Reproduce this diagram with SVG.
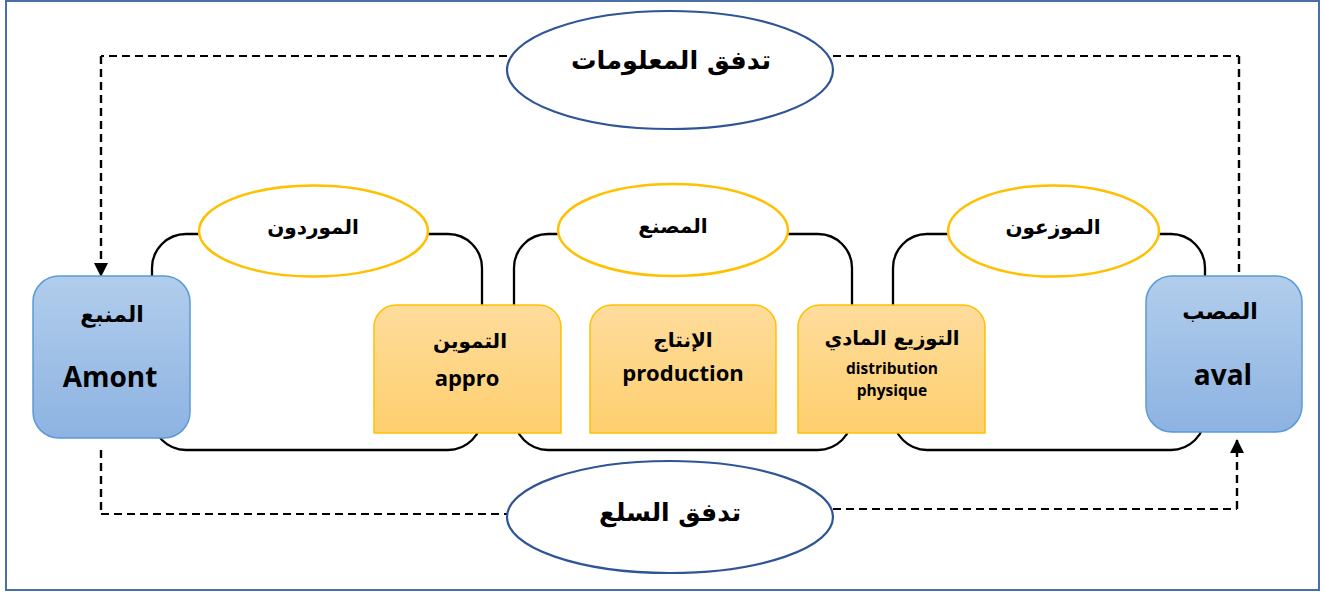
<svg xmlns="http://www.w3.org/2000/svg" width="1322" height="592" viewBox="0 0 1322 592">
  <style>
    .frame { fill: #ffffff; stroke: #4a6ea8; stroke-width: 2; }
    .bracket { fill: none; stroke: #000000; stroke-width: 2.3; }
    .flow { fill: none; stroke: #000000; stroke-width: 1.8; stroke-dasharray: 8 5; }
    .flow-v { fill: none; stroke: #000000; stroke-width: 2.4; stroke-dasharray: 8 5; }
    .actor { fill: #ffffff; stroke: #ffc000; stroke-width: 2.5; }
    .flowlabel { fill: #ffffff; stroke: #2f5597; stroke-width: 2.2; }
    .end { fill: url(#blueFill); stroke: #5b9bd5; stroke-width: 1.5; }
    .stage { fill: url(#orangeFill); stroke: #ffc000; stroke-width: 1.5; }
    .ar { font-family: "DejaVu Sans", sans-serif; font-weight: bold; fill: #000000; text-anchor: middle; direction: rtl; }
    .lat { font-family: "Open Sans", "Liberation Sans", sans-serif; font-weight: bold; fill: #000000; text-anchor: middle; }
  </style>
  <defs>
    <linearGradient id="blueFill" x1="0" y1="0" x2="0" y2="1">
      <stop offset="0" stop-color="#b1cdec"/>
      <stop offset="1" stop-color="#8db3e2"/>
    </linearGradient>
    <linearGradient id="orangeFill" x1="0" y1="0" x2="0" y2="1">
      <stop offset="0" stop-color="#fedc9c"/>
      <stop offset="1" stop-color="#fecf6e"/>
    </linearGradient>
    <marker id="arrow" viewBox="0 0 14 14" refX="13" refY="7" markerWidth="14" markerHeight="14" markerUnits="userSpaceOnUse" orient="auto">
      <path d="M0,0 L14,7 L0,14 Z" fill="#000000"/>
    </marker>
  </defs>

  <rect class="frame" x="6" y="1" width="1313" height="589"/>

  <!-- flow connectors and the bracket outlines behind the actors -->
  <g id="connectors">
    <path class="flow" d="M507,56 H101"/>
    <path class="flow-v" d="M101,56 V276" marker-end="url(#arrow)"/>
    <path class="flow" d="M833,56 H1239"/>
    <path class="flow-v" d="M1239,56 V277"/>
    <path class="flow-v" d="M101,450 V514"/>
    <path class="flow" d="M101,514 H507"/>
    <path class="flow" d="M833,509 H1237"/>
    <path class="flow-v" d="M1237,509 V440" marker-end="url(#arrow)"/>
    <rect class="bracket" x="152" y="234" width="330" height="216" rx="34"/>
    <rect class="bracket" x="514" y="234" width="338" height="216" rx="34"/>
    <rect class="bracket" x="893" y="234" width="312" height="216" rx="34"/>
  </g>

  <g id="info-flow">
    <ellipse class="flowlabel" cx="670" cy="70" rx="163" ry="59"/>
    <text class="ar" x="671" y="69" font-size="25.5">تدفق المعلومات</text>
  </g>

  <g id="goods-flow">
    <ellipse class="flowlabel" cx="670" cy="517" rx="163" ry="56"/>
    <text class="ar" x="670" y="521" font-size="25">تدفق السلع</text>
  </g>

  <g id="suppliers">
    <ellipse class="actor" cx="313.5" cy="231" rx="114.5" ry="45.5"/>
    <text class="ar" x="313" y="234" font-size="20">الموردون</text>
  </g>

  <g id="factory">
    <ellipse class="actor" cx="673" cy="230" rx="115" ry="46"/>
    <text class="ar" x="673" y="233" font-size="20">المصنع</text>
  </g>

  <g id="distributors">
    <ellipse class="actor" cx="1053.5" cy="231" rx="105.5" ry="45.5"/>
    <text class="ar" x="1053" y="234" font-size="20">الموزعون</text>
  </g>

  <g id="upstream">
    <rect class="end" x="33" y="276" width="157" height="162" rx="26"/>
    <text class="ar" x="112" y="322" font-size="22">المنبع</text>
    <text class="lat" x="110" y="387" font-size="28">Amont</text>
  </g>

  <g id="downstream">
    <rect class="end" x="1146" y="276" width="156" height="156" rx="26"/>
    <text class="ar" x="1220" y="319" font-size="22">المصب</text>
    <text class="lat" x="1223" y="385" font-size="28">aval</text>
  </g>

  <g id="supply">
    <path class="stage" d="M374,433 V327 A22,22 0 0 1 396,305 H539 A22,22 0 0 1 561,327 V433 Z"/>
    <text class="ar" x="470" y="348" font-size="20">التموين</text>
    <text class="lat" x="467" y="386" font-size="22">appro</text>
  </g>

  <g id="production">
    <path class="stage" d="M590,433 V327 A22,22 0 0 1 612,305 H754 A22,22 0 0 1 776,327 V433 Z"/>
    <text class="ar" x="683" y="347" font-size="20">الإنتاج</text>
    <text class="lat" x="683" y="381" font-size="22">production</text>
  </g>

  <g id="physical-distribution">
    <path class="stage" d="M798,433 V327 A22,22 0 0 1 820,305 H963 A22,22 0 0 1 985,327 V433 Z"/>
    <text class="ar" x="892" y="345" font-size="19.5">التوزيع المادي</text>
    <text class="lat" x="892" y="374" font-size="15.5">distribution</text>
    <text class="lat" x="892" y="396" font-size="15.5">physique</text>
  </g>
</svg>
